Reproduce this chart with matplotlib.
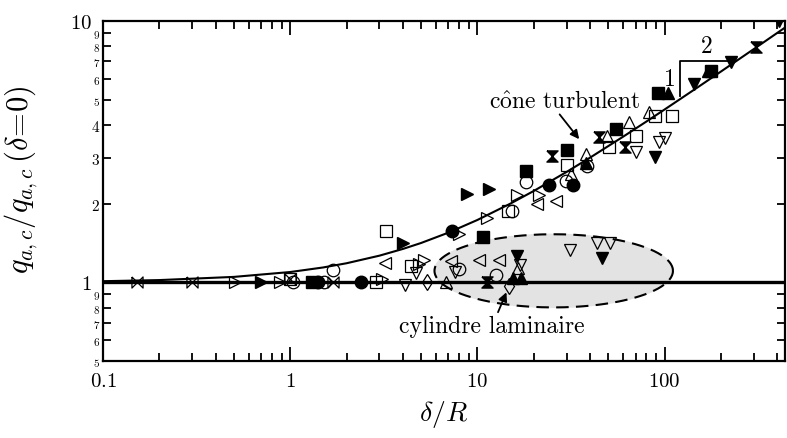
import numpy as np
import matplotlib
matplotlib.use("Agg")
import matplotlib.pyplot as plt

plt.rcParams['mathtext.fontset'] = 'cm'
plt.rcParams['font.family'] = ['cmr10', 'DejaVu Serif']
plt.rcParams['axes.formatter.use_mathtext'] = True

# model curve (turbulent cone)
curve_x = [0.1, 0.2, 0.5, 1, 1.5, 2, 3, 4, 5, 7, 10, 15, 20, 30, 40, 60, 80, 100, 150, 200, 300, 450]
curve_y = [1.010, 1.020, 1.049, 1.095, 1.140, 1.183, 1.265, 1.342, 1.414, 1.549, 1.732, 2.000,
           2.236, 2.646, 3.000, 3.606, 4.123, 4.583, 5.568, 6.403, 7.810, 9.539]

# measured points, one list pair per symbol
circ_f_x = [1.4, 2.4, 7.3, 24.0, 32.6]
circ_f_y = [1.0, 1.0, 1.57, 2.35, 2.35]
circ_o_x = [1.03, 1.52, 1.7, 8.0, 12.6, 15.4, 18.1, 29.6, 38.5]
circ_o_y = [1.0, 1.0, 1.11, 1.12, 1.07, 1.87, 2.41, 2.44, 2.78]
sq_f_x = [1.3, 10.7, 18.1, 30.0, 55.0, 92.5, 177]
sq_f_y = [1.0, 1.49, 2.66, 3.2, 3.86, 5.3, 6.44]
sq_o_x = [1.0, 2.88, 3.27, 4.4, 14.5, 30.0, 50.3, 70.4, 89, 110]
sq_o_y = [1.03, 1.0, 1.57, 1.15, 1.87, 2.81, 3.29, 3.63, 4.33, 4.33]
up_f_x = [15.6, 17.2, 38.0, 105, 170]
up_f_y = [1.04, 1.04, 2.85, 5.3, 6.44]
up_o_x = [6.8, 16.5, 31.7, 38.1, 49.0, 64.9, 83]
up_o_y = [1.0, 1.13, 2.6, 3.09, 3.63, 4.1, 4.48]
dn_f_x = [16.2, 46.5, 89, 143, 226, 408]
dn_f_y = [1.26, 1.24, 3.01, 5.74, 6.97, 10.0]
dn_o_x = [4.1, 4.7, 7.6, 16.8, 31.3, 43.6, 51, 70, 93, 101]
dn_o_y = [0.98, 1.09, 1.10, 1.17, 1.33, 1.41, 1.41, 3.15, 3.44, 3.56]
rt_f_x = [0.70, 4.0, 8.85, 11.6]
rt_f_y = [1.0, 1.42, 2.17, 2.27]
rt_o_x = [0.51, 0.88, 3.1, 4.9, 5.2, 8.0, 11.2, 16.3, 21.4]
rt_o_y = [1.0, 1.0, 1.03, 1.18, 1.22, 1.53, 1.77, 2.15, 2.15]
lt_o_x = [3.2, 7.2, 10.2, 13.0, 20.9, 26.4]
lt_o_y = [1.19, 1.21, 1.22, 1.22, 1.99, 2.04]
hg_f_x = [11.2, 25.0, 44.8, 61.7, 308]
hg_f_y = [1.0, 3.04, 3.59, 3.29, 7.96]
bt_o_x = [0.152, 0.30, 1.0, 1.69]
bt_o_y = [1.0, 1.0, 1.03, 1.0]
dm_o_x = [5.4, 14.8]
dm_o_y = [1.0, 0.97]

x_ticks = [0.1, 1, 10, 100]
x_labels = ['0.1', '1', '10', '100']
y_minor = [0.5, 0.6, 0.7, 0.8, 0.9, 2, 3, 4, 5, 6, 7, 8, 9]

hourglass = [(-1, 1), (1, 1), (-1, -1), (1, -1), (-1, 1)]
bowtie = [(-1, 1), (-1, -1), (1, 1), (1, -1), (-1, 1)]

fig = plt.figure(figsize=(7.87, 4.39), dpi=100)
ax = fig.add_axes([0.1309, 0.1754, 0.8665, 0.7745])
ax.set_xscale('log')
ax.set_yscale('log')
ax.set_xlim(0.1, 440)
ax.set_ylim(0.5, 10)

# laminar zone ellipse (in log space)
t = np.linspace(0, 2 * np.pi, 200)
ex = 10 ** (1.408 + 0.637 * np.cos(t))
ey = 10 ** (0.044 + 0.14 * np.sin(t))
ax.fill(ex, ey, color='#e3e3e3', zorder=0)
ax.plot(ex, ey, color='k', ls=(0, (6, 3.5)), lw=1.5, zorder=1)

ax.axhline(1.0, color='k', lw=2.4, zorder=2)
ax.plot(curve_x, curve_y, color='k', lw=1.5, zorder=2)

ms = 9
kw_f = dict(ls='none', ms=ms, mfc='k', mec='k', mew=1.0, zorder=3)
kw_o = dict(ls='none', ms=ms, mfc='none', mec='k', mew=0.9, zorder=3)
ax.plot(circ_f_x, circ_f_y, marker='o', **kw_f)
ax.plot(circ_o_x, circ_o_y, marker='o', **kw_o)
ax.plot(sq_f_x, sq_f_y, marker='s', **kw_f)
ax.plot(sq_o_x, sq_o_y, marker='s', **kw_o)
ax.plot(up_f_x, up_f_y, marker='^', **kw_f)
ax.plot(up_o_x, up_o_y, marker='^', **kw_o)
ax.plot(dn_f_x, dn_f_y, marker='v', **kw_f)
ax.plot(dn_o_x, dn_o_y, marker='v', **kw_o)
ax.plot(rt_f_x, rt_f_y, marker='>', **kw_f)
ax.plot(rt_o_x, rt_o_y, marker='>', **kw_o)
ax.plot(lt_o_x, lt_o_y, marker='<', **kw_o)
ax.plot(hg_f_x, hg_f_y, marker=hourglass, **dict(kw_f, ms=8))
ax.plot(bt_o_x, bt_o_y, marker=bowtie, **dict(kw_o, ms=8))
ax.plot(dm_o_x, dm_o_y, marker='d', **dict(kw_o, ms=8))

# slope triangle 1/2
ax.plot([121, 121, 226], [5.16, 7.02, 7.02], color='k', lw=1.3, zorder=2)
ax.text(168, 7.25, '$2$', fontsize=17, ha='center', va='bottom')
ax.text(113, 6.0, '$1$', fontsize=17, ha='right', va='center')

ax.annotate(r'c$\hat{\mathrm{o}}$ne turbulent', xy=(35, 3.53), xytext=(29.4, 4.5),
            fontsize=17, ha='center', va='bottom',
            arrowprops=dict(arrowstyle='-|>', color='k', lw=1.3, shrinkA=0, shrinkB=0,
                            mutation_scale=13, relpos=(0.45, 0.0)))
ax.annotate('cylindre laminaire', xy=(14.3, 0.916), xytext=(12.0, 0.75),
            fontsize=17, ha='center', va='top',
            arrowprops=dict(arrowstyle='-|>', color='k', lw=1.3, shrinkA=0, shrinkB=0,
                            mutation_scale=13))

ax.set_xticks(x_ticks, labels=['$' + s + '$' for s in x_labels])
ax.set_yticks([1, 10], labels=['$1$', '$10$'])
yticks = ax.set_yticks(y_minor, labels=['$%g$' % v if v >= 2 else '$%d$' % round(v * 10) for v in y_minor],
                       minor=True)
for v, tk in zip(y_minor, yticks):
    tk.label1.set_fontsize(11 if v in (2, 3, 4) else 8)
ax.xaxis.set_minor_locator(matplotlib.ticker.LogLocator(subs=np.arange(2, 10)))
ax.xaxis.set_minor_formatter(matplotlib.ticker.NullFormatter())

ax.tick_params(which='both', direction='in', top=True, right=True, width=1.3)
ax.tick_params(which='major', length=10, labelsize=15, pad=8)
ax.tick_params(axis='y', which='major', labelsize=15, pad=8)
ax.tick_params(axis='y', which='minor', length=6, pad=2)
ax.tick_params(axis='x', which='minor', length=6)
for s in ax.spines.values():
    s.set_linewidth(1.6)

ax.set_xlabel(r'$\delta/R$', fontsize=20, labelpad=6)
ax.set_ylabel(r'$q_{a,c}/q_{a,c}\,(\delta\!=\!0)$', fontsize=22)
ax.yaxis.set_label_coords(-0.092, 0.535)

fig.savefig('out.png', dpi=100)
